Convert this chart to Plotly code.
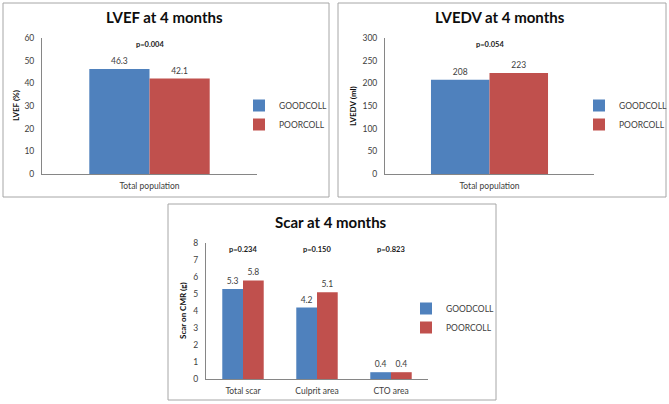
import plotly.graph_objects as go

W, H = 669, 404

series = ["GOODCOLL", "POORCOLL"]
colors = ["#4F81BD", "#C0504D"]

lvef_cats = ["Total population"]
lvef_good = [46.3]
lvef_poor = [42.1]
lvef_p = ["p=0.004"]

lvedv_cats = ["Total population"]
lvedv_good = [208]
lvedv_poor = [223]
lvedv_p = ["p=0.054"]

scar_cats = ["Total scar", "Culprit area", "CTO area"]
scar_good = [5.3, 4.2, 0.4]
scar_poor = [5.8, 5.1, 0.4]
scar_p = ["p=0.234", "p=0.150", "p=0.823"]

FONT = "Lato, Open Sans, sans-serif"
TXT = "#404040"

def px(x):
    return x / W

def py(y):
    return 1 - y / H

fig = go.Figure()

panels = [
    dict(cats=lvef_cats, good=lvef_good, poor=lvef_poor, p=lvef_p, py_val=57,
         title="LVEF at 4 months", ytitle="LVEF (%)", rng=[0, 60], dt=10, fmt=".1f",
         xd=[42, 257], yd=[38, 174], box=[3, 3, 329, 197], tx=164, ty=17, ytx=16,
         leg=[249, 91], ax=""),
    dict(cats=lvedv_cats, good=lvedv_good, poor=lvedv_poor, p=lvedv_p, py_val=285,
         title="LVEDV at 4 months", ytitle="LVEDV (ml)", rng=[0, 300], dt=50, fmt="d",
         xd=[385, 594], yd=[38, 174], box=[338, 3, 666, 197], tx=500, ty=17, ytx=353,
         leg=[589, 91], ax="2"),
    dict(cats=scar_cats, good=scar_good, poor=scar_poor, p=scar_p, py_val=7.6,
         title="Scar at 4 months", ytitle="Scar on CMR (g)", rng=[0, 8], dt=1, fmt=".1f",
         xd=[206, 428], yd=[243, 379], box=[168, 204, 496, 400], tx=331, ty=222, ytx=183,
         leg=[416, 294], ax="3"),
]

shapes = []
annotations = []
for i, pnl in enumerate(panels):
    ax = pnl["ax"]
    legname = "legend" if i == 0 else f"legend{i+1}"
    for name, vals, col in zip(series, [pnl["good"], pnl["poor"]], colors):
        if pnl["fmt"] == "d":
            texts = [f"{v:d}" for v in vals]
        else:
            texts = [f"{v:.1f}" for v in vals]
        fig.add_trace(go.Bar(
            x=pnl["cats"], y=vals, name=name, marker=dict(color=col, line=dict(width=0)),
            text=texts, textposition="outside", cliponaxis=False,
            textfont=dict(family=FONT, size=8.5, color=TXT),
            xaxis="x" + ax, yaxis="y" + ax, legend=legname, hoverinfo="skip",
        ))
    for c, ptxt in zip(pnl["cats"], pnl["p"]):
        annotations.append(dict(x=c, y=pnl["py_val"], xref="x" + ax, yref="y" + ax,
                                text=f"<b>{ptxt}</b>", showarrow=False,
                                xanchor="center", yanchor="middle",
                                font=dict(family=FONT, size=7.5, color="#1a1a1a")))
    annotations.append(dict(x=px(pnl["tx"]), y=py(pnl["ty"]), xref="paper", yref="paper",
                            text=f"<b>{pnl['title']}</b>", showarrow=False,
                            xanchor="center", yanchor="middle",
                            font=dict(family=FONT, size=15, color="#0d0d0d")))
    annotations.append(dict(x=px(pnl["ytx"]), y=py((pnl["yd"][0] + pnl["yd"][1]) / 2),
                            xref="paper", yref="paper", text=f"<b>{pnl['ytitle']}</b>",
                            textangle=-90, showarrow=False,
                            xanchor="center", yanchor="middle",
                            font=dict(family=FONT, size=8, color="#0d0d0d")))
    b = pnl["box"]
    shapes.append(dict(type="rect", xref="paper", yref="paper",
                       x0=px(b[0]), x1=px(b[2]), y0=py(b[3]), y1=py(b[1]),
                       line=dict(color="#A6A6A6", width=1)))
    xa = dict(domain=[px(pnl["xd"][0]), px(pnl["xd"][1])],
              anchor="y" + ax, showline=True, linecolor="#868686", linewidth=1,
              ticks="", showgrid=False, zeroline=False, ticklabelstandoff=4,
              tickfont=dict(family=FONT, size=8.5, color=TXT), fixedrange=True)
    ya = dict(domain=[py(pnl["yd"][1]), py(pnl["yd"][0])],
              anchor="x" + ax, range=pnl["rng"], dtick=pnl["dt"], tick0=0,
              showline=True, linecolor="#868686", linewidth=1, ticks="",
              showgrid=False, zeroline=False, ticklabelstandoff=5,
              tickfont=dict(family=FONT, size=8.5, color=TXT), fixedrange=True)
    fig.layout["xaxis" + ax] = xa
    fig.layout["yaxis" + ax] = ya
    fig.layout[legname] = dict(x=px(pnl["leg"][0]), y=py(pnl["leg"][1]),
                               xanchor="left", yanchor="top",
                               font=dict(family=FONT, size=8.5, color=TXT),
                               bgcolor="rgba(0,0,0,0)", tracegroupgap=0,
                               itemwidth=30, indentation=-10)

fig.update_layout(
    width=W, height=H, margin=dict(l=0, r=0, t=0, b=0, autoexpand=False),
    paper_bgcolor="white", plot_bgcolor="white",
    barmode="group", bargroupgap=0,
    shapes=shapes, annotations=annotations, showlegend=True,
)
fig.update_layout(bargap=0.44)

fig.write_html("out.html", config={"displayModeBar": False, "staticPlot": True},
               post_script="document.body.style.margin='0';document.body.style.overflow='hidden';")
